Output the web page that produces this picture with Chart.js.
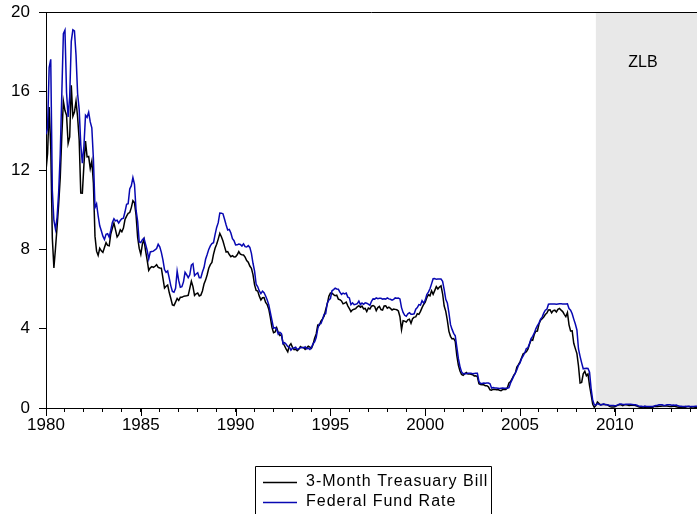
<!DOCTYPE html>
<html>
<head>
<meta charset="utf-8">
<script src="https://cdn.jsdelivr.net/npm/chart.js@4"></script>
<style>
html,body{margin:0;padding:0;background:#fff;}
#wrap{width:697px;height:514px;position:relative;}
</style>
</head>
<body>
<div id="wrap"><canvas id="c" width="697" height="514"></canvas></div>
<script>
// ---- DATA (monthly, Jan 1980 - May 2014) ----
const startYear = 1980;
const seriesNames = ["3-Month Treasuary Bill", "Federal Fund Rate"];
const yTicks = [0, 4, 8, 12, 16, 20];
const xLabelYears = [1980, 1985, 1990, 1995, 2000, 2005, 2010];
const zlbStart = 2009.0;
const zlbLabel = "ZLB";

const tbill = [
 12.00,12.86,15.20,13.20,8.58,7.07,8.06,9.13,10.27,11.62,13.73,15.49,
 15.02,14.79,13.36,13.69,16.30,14.73,14.95,15.51,14.70,13.54,10.86,10.85,
 12.28,13.48,12.68,12.70,12.09,12.47,11.35,8.68,7.92,7.71,8.07,7.94,
 7.86,8.11,8.35,8.21,8.19,8.79,9.08,9.34,9.00,8.64,8.76,9.00,
 8.90,9.09,9.52,9.69,9.83,9.87,10.12,10.47,10.37,9.74,8.61,8.06,
 7.76,8.27,8.52,7.95,7.48,6.95,7.08,7.14,7.10,7.16,7.24,7.10,
 7.07,7.06,6.56,6.06,6.15,6.21,5.83,5.53,5.21,5.18,5.35,5.53,
 5.43,5.59,5.59,5.64,5.66,5.67,5.69,6.04,6.40,6.13,5.69,5.77,
 5.81,5.66,5.70,5.91,6.26,6.46,6.73,7.06,7.24,7.35,7.76,8.07,
 8.27,8.53,8.82,8.65,8.43,8.15,7.88,7.90,7.75,7.64,7.69,7.63,
 7.64,7.74,7.90,7.77,7.74,7.73,7.62,7.45,7.36,7.17,7.06,6.74,
 6.22,5.94,5.91,5.65,5.46,5.57,5.58,5.33,5.22,4.99,4.56,4.07,
 3.80,3.84,4.05,3.81,3.66,3.70,3.28,3.14,2.97,2.84,3.14,3.25,
 3.06,2.95,2.97,2.89,2.96,3.10,3.05,3.05,2.96,3.04,3.12,3.08,
 3.02,3.21,3.52,3.74,4.19,4.18,4.39,4.50,4.64,4.96,5.25,5.64,
 5.81,5.80,5.73,5.67,5.70,5.50,5.47,5.41,5.26,5.30,5.35,5.16,
 5.02,4.87,4.96,4.99,5.02,5.11,5.17,5.09,5.15,5.01,5.03,4.87,
 5.05,5.00,5.14,5.17,5.13,4.92,5.07,5.13,4.97,4.95,5.15,5.16,
 5.04,5.09,5.03,4.95,5.00,4.98,4.96,4.90,4.61,3.96,4.41,4.39,
 4.34,4.45,4.48,4.28,4.51,4.59,4.60,4.76,4.73,4.88,5.07,5.23,
 5.34,5.57,5.72,5.67,5.92,5.74,5.93,6.13,6.01,6.11,6.17,5.77,
 5.15,4.88,4.42,3.87,3.62,3.49,3.51,3.36,2.64,2.16,1.87,1.69,
 1.65,1.73,1.79,1.72,1.73,1.70,1.68,1.62,1.63,1.58,1.23,1.19,
 1.17,1.17,1.13,1.13,1.07,0.92,0.90,0.95,0.94,0.92,0.93,0.90,
 0.88,0.93,0.94,0.94,1.02,1.27,1.33,1.48,1.65,1.76,2.07,2.19,
 2.33,2.54,2.74,2.78,2.84,2.97,3.22,3.44,3.42,3.71,3.88,3.89,
 4.24,4.43,4.51,4.60,4.72,4.79,4.95,4.96,4.81,4.92,4.94,4.85,
 4.98,5.03,4.94,4.87,4.73,4.61,4.82,4.20,3.89,3.90,3.27,3.00,
 2.75,2.12,1.26,1.29,1.73,1.86,1.63,1.72,1.13,0.67,0.19,0.03,
 0.13,0.30,0.22,0.16,0.18,0.18,0.18,0.17,0.12,0.07,0.05,0.05,
 0.06,0.11,0.15,0.16,0.16,0.12,0.16,0.16,0.15,0.13,0.14,0.14,
 0.15,0.13,0.10,0.06,0.04,0.04,0.04,0.02,0.01,0.02,0.01,0.01,
 0.03,0.09,0.08,0.08,0.09,0.09,0.10,0.10,0.11,0.10,0.09,0.07,
 0.07,0.10,0.09,0.06,0.04,0.05,0.04,0.04,0.02,0.05,0.07,0.07,
 0.04,0.05,0.05,0.03,0.03
];

const fedfunds = [
 13.82,14.13,17.19,17.61,10.98,9.47,9.03,9.61,10.87,12.81,15.85,18.90,
 19.08,15.93,14.70,15.72,18.52,19.10,19.04,17.82,15.87,15.08,13.31,12.37,
 13.22,14.78,14.68,14.94,14.45,14.15,12.59,10.12,10.31,9.71,9.20,8.95,
 8.68,8.51,8.77,8.80,8.63,8.98,9.37,9.56,9.45,9.48,9.34,9.47,
 9.56,9.59,9.91,10.29,10.32,11.06,11.23,11.64,11.30,9.99,9.43,8.38,
 8.35,8.50,8.58,8.27,7.97,7.53,7.88,7.90,7.92,7.99,8.05,8.27,
 8.14,7.86,7.48,6.99,6.85,6.92,6.56,6.17,5.89,5.85,6.04,6.91,
 6.43,6.10,6.13,6.37,6.85,6.73,6.58,6.73,7.22,7.29,6.69,6.77,
 6.83,6.58,6.58,6.87,7.09,7.51,7.75,8.01,8.19,8.30,8.35,8.76,
 9.12,9.36,9.85,9.84,9.81,9.53,9.24,8.99,9.02,8.84,8.55,8.45,
 8.23,8.24,8.28,8.26,8.18,8.29,8.15,8.13,8.20,8.11,7.81,7.31,
 6.91,6.25,6.12,5.91,5.78,5.90,5.82,5.66,5.45,5.21,4.81,4.43,
 4.03,4.06,3.98,3.73,3.82,3.76,3.25,3.30,3.22,3.10,3.09,2.92,
 3.02,3.03,3.07,2.96,3.00,3.04,3.06,3.03,3.09,2.99,3.02,2.96,
 3.05,3.25,3.34,3.56,4.01,4.25,4.26,4.47,4.73,4.76,5.29,5.45,
 5.53,5.92,5.98,6.05,6.01,6.00,5.85,5.74,5.80,5.76,5.80,5.60,
 5.56,5.22,5.31,5.22,5.24,5.27,5.40,5.22,5.30,5.24,5.31,5.29,
 5.25,5.19,5.39,5.51,5.50,5.56,5.52,5.54,5.54,5.50,5.52,5.50,
 5.56,5.51,5.49,5.45,5.49,5.56,5.54,5.55,5.51,5.07,4.83,4.68,
 4.63,4.76,4.81,4.74,4.74,4.76,4.99,5.07,5.22,5.20,5.42,5.30,
 5.45,5.73,5.85,6.02,6.27,6.53,6.54,6.50,6.52,6.51,6.51,6.40,
 5.98,5.49,5.31,4.80,4.21,3.97,3.77,3.65,3.07,2.49,2.09,1.82,
 1.73,1.74,1.73,1.75,1.75,1.75,1.73,1.74,1.75,1.75,1.34,1.24,
 1.24,1.26,1.25,1.26,1.26,1.22,1.01,1.03,1.01,1.01,1.00,0.98,
 1.00,1.01,1.00,1.00,1.00,1.03,1.26,1.43,1.61,1.76,1.93,2.16,
 2.28,2.50,2.63,2.79,3.00,3.04,3.26,3.50,3.62,3.78,4.00,4.16,
 4.29,4.49,4.59,4.79,4.94,4.99,5.24,5.25,5.25,5.25,5.25,5.24,
 5.25,5.26,5.26,5.25,5.25,5.25,5.26,5.02,4.94,4.76,4.49,4.24,
 3.94,2.98,2.61,2.28,1.98,2.00,2.01,2.00,1.81,0.97,0.39,0.16,
 0.15,0.22,0.18,0.15,0.18,0.21,0.16,0.16,0.15,0.12,0.12,0.12,
 0.11,0.13,0.16,0.20,0.20,0.18,0.18,0.19,0.19,0.19,0.19,0.18,
 0.17,0.16,0.14,0.10,0.09,0.09,0.07,0.10,0.08,0.07,0.08,0.07,
 0.08,0.10,0.13,0.14,0.16,0.16,0.16,0.13,0.14,0.16,0.16,0.16,
 0.14,0.15,0.14,0.15,0.11,0.09,0.09,0.08,0.08,0.09,0.08,0.09,
 0.07,0.07,0.08,0.09,0.09
];

// ---- build ----
const FONT = "'Liberation Sans', Arial, sans-serif";
const toPts = arr => arr.map((v, i) => ({x: startYear + i / 12, y: v}));
const xMax = startYear + (tbill.length - 1) / 12;
const colors = ["#000000", "#0808b2"];
const allYears = [];
for (let yr = startYear; yr <= Math.floor(xMax); yr++) allYears.push(yr);

const decorPlugin = {
  id: 'decor',
  beforeDatasetsDraw(chart) {
    const {ctx, chartArea: a} = chart;
    const xs = chart.scales.x.getPixelForValue(zlbStart);
    ctx.save();
    ctx.fillStyle = '#e8e8e8';
    ctx.fillRect(xs, a.top, a.right - xs, a.bottom - a.top);
    ctx.fillStyle = '#000';
    ctx.font = '16px ' + FONT;
    ctx.textAlign = 'center';
    ctx.textBaseline = 'middle';
    ctx.fillText(zlbLabel, 643, 63);
    ctx.restore();
  },
  afterDraw(chart) {
    const {ctx, chartArea: a} = chart;
    const xs = chart.scales.x;
    ctx.save();
    ctx.strokeStyle = '#000';
    ctx.lineWidth = 1;
    // top frame
    ctx.beginPath();
    ctx.moveTo(a.left, Math.round(a.top) + 0.5);
    ctx.lineTo(a.right, Math.round(a.top) + 0.5);
    ctx.stroke();
    // lengthen the major x ticks
    const yb = Math.round(a.bottom);
    ctx.beginPath();
    xLabelYears.forEach(yr => {
      const px = Math.round(xs.getPixelForValue(yr)) + 0.5;
      ctx.moveTo(px, yb);
      ctx.lineTo(px, yb + 8);
    });
    ctx.stroke();
    // legend
    const L = 255, T = 466, R = 491;
    ctx.beginPath();
    ctx.rect(L + 0.5, T + 0.5, R - L, 60);
    ctx.stroke();
    ctx.font = '16px ' + FONT;
    ctx.textBaseline = 'middle';
    ctx.textAlign = 'left';
    try { ctx.letterSpacing = '1px'; } catch (e) {}
    chart.data.datasets.forEach((ds, i) => {
      const yy = 482 + i * 20;
      ctx.strokeStyle = ds.borderColor;
      ctx.lineWidth = 1.3;
      ctx.beginPath();
      ctx.moveTo(263, yy + 0.5);
      ctx.lineTo(297, yy + 0.5);
      ctx.stroke();
      ctx.fillStyle = '#000';
      ctx.fillText(ds.label, 306, yy);
    });
    ctx.restore();
  }
};

new Chart(document.getElementById('c'), {
  type: 'line',
  data: {
    datasets: [
      {label: seriesNames[0], data: toPts(tbill), borderColor: colors[0], borderWidth: 1.5, pointRadius: 0, tension: 0, order: 1},
      {label: seriesNames[1], data: toPts(fedfunds), borderColor: colors[1], borderWidth: 1.5, pointRadius: 0, tension: 0, order: 0}
    ]
  },
  options: {
    responsive: false,
    animation: false,
    events: [],
    layout: {padding: {left: 0, right: 0, top: 12, bottom: 66}},
    plugins: {legend: {display: false}, tooltip: {enabled: false}},
    scales: {
      x: {
        type: 'linear',
        min: startYear,
        max: xMax,
        afterFit: s => { s.height = 40; s.paddingLeft = 0; s.paddingRight = 0; },
        afterBuildTicks: s => { s.ticks = allYears.map(v => ({value: v})); },
        grid: {display: true, drawOnChartArea: false, drawTicks: true, tickLength: 4, tickColor: '#000'},
        border: {display: true, color: '#000', width: 1},
        ticks: {
          autoSkip: false, maxRotation: 0, padding: 3,
          color: '#000', font: {family: FONT, size: 17},
          callback: v => xLabelYears.includes(v) ? String(v) : ''
        }
      },
      y: {
        min: 0, max: 20,
        afterFit: s => { s.width = 46; s.paddingTop = 0; s.paddingBottom = 0; },
        afterBuildTicks: s => { s.ticks = yTicks.map(v => ({value: v})); },
        grid: {display: true, drawOnChartArea: false, drawTicks: true, tickLength: 7, tickColor: '#000'},
        border: {display: true, color: '#000', width: 1},
        ticks: {padding: 9, color: '#000', font: {family: FONT, size: 17}}
      }
    }
  },
  plugins: [decorPlugin]
});
</script>
</body>
</html>
